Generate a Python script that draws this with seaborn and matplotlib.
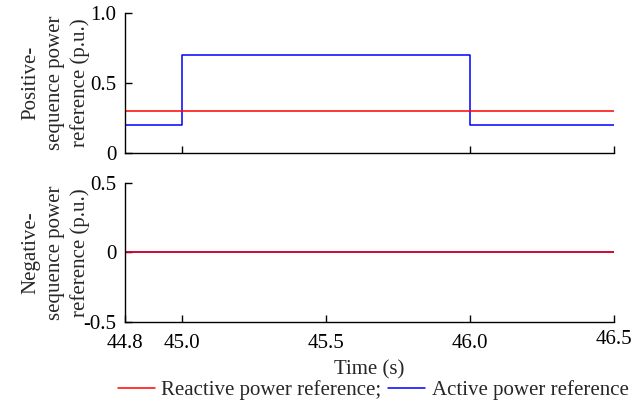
import matplotlib
matplotlib.use("Agg")
import matplotlib.pyplot as plt
import matplotlib.transforms as mtransforms
import seaborn as sns
import pandas as pd
from matplotlib.lines import Line2D

# Data
time = [44.8, 45.0, 46.0, 46.5]
active_pos = [0.2, 0.7, 0.2, 0.2]
reactive_pos = [0.3, 0.3, 0.3, 0.3]
active_neg = [0.0, 0.0, 0.0, 0.0]
reactive_neg = [0.0, 0.0, 0.0, 0.0]
xticks = [44.8, 45.0, 45.5, 46.0, 46.5]
xticklabels = ["44.8", "45.0", "45.5", "46.0", "46.5"]

sns.set_theme(style="ticks")
plt.rcParams['font.family'] = ['Liberation Serif', 'DejaVu Serif']
FS = 15
plt.rcParams['font.size'] = FS

RED = "#ff0000"
BLUE = "#0000ff"

fig = plt.figure(figsize=(6.43, 4.03), dpi=100)
ax1 = fig.add_axes([0.194, 0.620, 0.761, 0.348])
ax2 = fig.add_axes([0.194, 0.201, 0.761, 0.345])

df_pos = pd.DataFrame({"t": time, "a": active_pos, "r": reactive_pos})
df_neg = pd.DataFrame({"t": time, "a": active_neg, "r": reactive_neg})

sns.lineplot(data=df_pos, x="t", y="a", ax=ax1, color=BLUE, lw=1.1, drawstyle="steps-post")
sns.lineplot(data=df_pos, x="t", y="r", ax=ax1, color=RED, lw=1.1, drawstyle="steps-post")
sns.lineplot(data=df_neg, x="t", y="a", ax=ax2, color=BLUE, lw=1.1, drawstyle="steps-post")
sns.lineplot(data=df_neg, x="t", y="r", ax=ax2, color=RED, lw=1.1, drawstyle="steps-post")

for ax in (ax1, ax2):
    ax.set_xlim(44.8, 46.5)
    sns.despine(ax=ax)
    ax.tick_params(direction="in", length=5, width=1, colors="black", labelsize=FS)
    ax.tick_params(axis="y", pad=6)
    ax.tick_params(axis="x", pad=9)
    for s in ("left", "bottom"):
        ax.spines[s].set_color("black")
        ax.spines[s].set_linewidth(1.0)
    ax.set_xlabel("")

ax1.set_ylim(0, 1.0)
ax1.set_yticks([0, 0.5, 1.0])
ax1.set_yticklabels(["0", "0.5", "1.0"])
ax1.set_xticks([45.0, 46.0, 46.5])
ax1.set_xticklabels([])
ax1.set_ylabel("Positive-\nsequence power\nreference (p.u.)", fontsize=FS, linespacing=1.4)

ax2.set_ylim(-0.5, 0.5)
ax2.set_yticks([-0.5, 0, 0.5])
ax2.set_yticklabels(["-0.5", "0", "0.5"])
ax2.set_xticks(xticks)
ax2.set_xticklabels(xticklabels)
ax2.set_ylabel("Negative-\nsequence power\nreference (p.u.)", fontsize=FS, linespacing=1.4)
ax2.set_xlabel("Time (s)", fontsize=FS, labelpad=5)

# last x tick label sits slightly raised, as in the reference
last = ax2.get_xticklabels()[-1]
last.set_transform(last.get_transform() + mtransforms.ScaledTranslation(0, 0.045, fig.dpi_scale_trans))

ax1.yaxis.set_label_coords(-0.07, 0.5)
ax2.yaxis.set_label_coords(-0.07, 0.5)

handles = [Line2D([0], [0], color=RED, lw=1.1), Line2D([0], [0], color=BLUE, lw=1.1)]
fig.legend(handles, ["Reactive power reference;", "Active power reference"], ncol=2,
           loc="center", bbox_to_anchor=(0.580, 0.031), frameon=False,
           handlelength=1.8, handletextpad=0.3, columnspacing=0.3, fontsize=FS,
           borderpad=0.0, borderaxespad=0.0)

fig.savefig("out.png", dpi=100)
